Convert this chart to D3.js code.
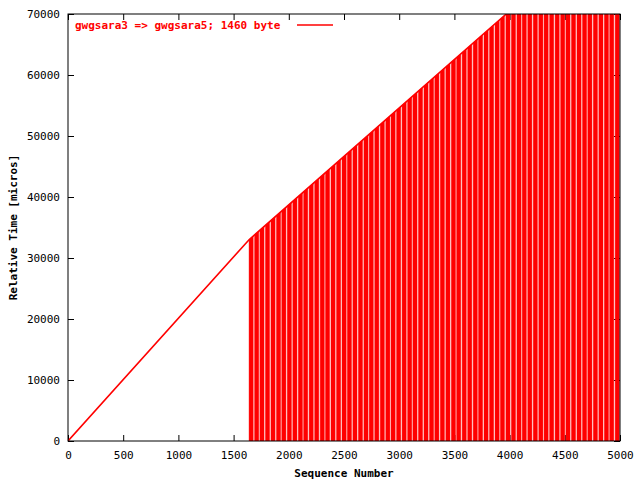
<!DOCTYPE html><html><head><script src="https://cdn.jsdelivr.net/npm/d3@7"></script>
<style>body{margin:0;background:#fff}text{font-family:"DejaVu Sans Mono",monospace;font-size:11px;font-weight:bold}</style></head><body><svg width="640" height="480"></svg>
<script>
const xTicks=[0,500,1000,1500,2000,2500,3000,3500,4000,4500,5000];
const yTicks=[0,10000,20000,30000,40000,50000,60000,70000];
const rampSeq=[0,1640,3970,5000];
const rampTime=[0,33000,70000,86300];
const burstStarts=[1640,1690,1738,1788,1838,1888,1936,1986,2036,2086,2134,2184,2234,2284,2332,2382,2432,2482,2530,2580,2630,2680,2728,2778,2828,2878,2926,2976,3026,3076,3124,3174,3224,3274,3322,3372,3422,3472,3520,3570,3620,3670,3718,3768,3818,3868,3916,3966,4016,4066,4114,4164,4214,4264,4312,4362,4412,4462,4510,4560,4610,4660,4708,4758,4808,4858,4906,4956];
const burstWidth=38;
const svg=d3.select("svg");
const L=68,R=620,T=14,B=441;
const x=d3.scaleLinear().domain([0,5000]).range([L,R]);
const y=d3.scaleLinear().domain([0,70000]).range([B,T]);
const ramp=d3.scaleLinear().domain(rampSeq).range(rampTime);
svg.append("g").attr("transform",`translate(0,${B})`).call(d3.axisBottom(x).tickValues(xTicks).tickSize(-6).tickPadding(10).tickFormat(d3.format("d"))).call(a=>a.select(".domain").remove());
svg.append("g").attr("transform",`translate(0,${T})`).call(d3.axisTop(x).tickValues(xTicks).tickSize(-6).tickFormat("")).call(a=>a.select(".domain").remove());
svg.append("g").attr("transform",`translate(${L},0)`).call(d3.axisLeft(y).tickValues(yTicks).tickSize(-6).tickPadding(8).tickFormat(d3.format("d"))).call(a=>a.select(".domain").remove());
svg.append("g").attr("transform",`translate(${R},0)`).call(d3.axisRight(y).tickValues(yTicks).tickSize(-6).tickFormat("")).call(a=>a.select(".domain").remove());
svg.selectAll(".tick text").attr("fill","#000").style("font-weight","normal").style("font-family","DejaVu Sans Mono").style("font-size","11px");
svg.append("clipPath").attr("id","c").append("rect").attr("x",L).attr("y",T).attr("width",R-L).attr("height",B-T);
const g=svg.append("g").attr("clip-path","url(#c)");
const line=d3.line().x(d=>x(d)).y(d=>y(ramp(d)));
g.append("path").attr("d",line(rampSeq)).attr("stroke","red").attr("stroke-width",1.6).attr("fill","none");
const area=d3.area().x(d=>x(d)).y0(y(0)).y1(d=>y(ramp(d)));
burstStarts.forEach(s=>{const e=Math.min(s+burstWidth,5000);g.append("path").attr("d",area([s,e])).attr("fill","red").attr("stroke","red").attr("stroke-width",0.4);});
svg.append("rect").attr("x",L).attr("y",T).attr("width",R-L).attr("height",B-T).attr("fill","none").attr("stroke","#000");
svg.append("text").attr("x",(L+R)/2).attr("y",477).attr("text-anchor","middle").text("Sequence Number");
svg.append("text").attr("transform",`translate(17,${(T+B)/2}) rotate(-90)`).attr("text-anchor","middle").text("Relative Time [micros]");
svg.append("text").attr("x",75).attr("y",29).attr("fill","red").text("gwgsara3 => gwgsara5; 1460 byte");
svg.append("line").attr("x1",297).attr("x2",333).attr("y1",25).attr("y2",25).attr("stroke","red").attr("stroke-width",1.5);
</script></body></html>
